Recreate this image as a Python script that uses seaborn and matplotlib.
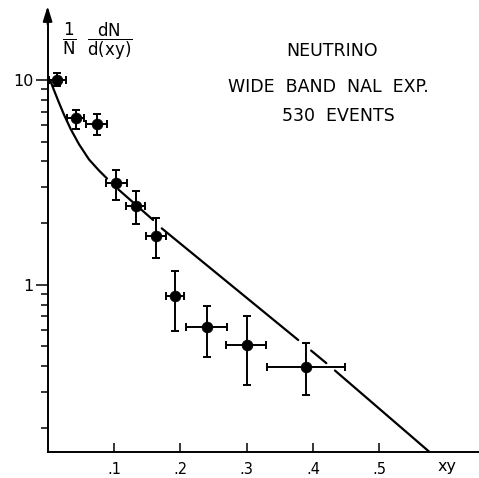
import numpy as np
import pandas as pd
import matplotlib
matplotlib.use("Agg")
import matplotlib.pyplot as plt
import seaborn as sns
from matplotlib.ticker import FixedLocator, NullFormatter

# ---- data ----
xy = [0.0146, 0.043, 0.074, 0.1035, 0.1327, 0.163, 0.192, 0.240, 0.300, 0.390]
rate = [10.0, 6.48, 6.06, 3.15, 2.43, 1.73, 0.884, 0.620, 0.508, 0.398]
rate_hi = [10.8, 7.12, 6.78, 3.63, 2.87, 2.12, 1.166, 0.787, 0.706, 0.518]
rate_lo = [9.31, 5.73, 5.37, 2.59, 1.98, 1.35, 0.594, 0.442, 0.324, 0.290]
xy_lo = [0.002, 0.029, 0.058, 0.088, 0.118, 0.148, 0.178, 0.208, 0.269, 0.330]
xy_hi = [0.027, 0.055, 0.090, 0.120, 0.147, 0.179, 0.206, 0.270, 0.329, 0.448]

# theory curve (drawn in pieces, with gaps where it passes the error bars)
curve_x = [0.0036, 0.0096, 0.0172, 0.0247, 0.0348, 0.0473, 0.0623, 0.0774, 0.0895,
           0.1065, 0.159,
           0.172, 0.3776,
           0.397, 0.420,
           0.433, 0.576]
curve_y = [10.0, 8.91, 7.73, 6.76, 5.75, 4.85, 4.09, 3.61, 3.30,
           2.92, 2.07,
           1.884, 0.537,
           0.477, 0.414,
           0.381, 0.152]
curve_piece = [0, 0, 0, 0, 0, 0, 0, 0, 0,
               1, 1,
               2, 2,
               3, 3,
               4, 4]

x_ticks = [0.1, 0.2, 0.3, 0.4, 0.5]
x_tick_labels = [".1", ".2", ".3", ".4", ".5"]
y_ticks = [1, 10]
y_tick_labels = ["1", "10"]
title_lines = ["NEUTRINO", "WIDE  BAND  NAL  EXP.", "530  EVENTS"]

# ---- figure ----
sns.set_style("ticks")
plt.rcParams["font.family"] = ["DejaVu Sans"]
plt.rcParams["mathtext.fontset"] = "custom"
plt.rcParams["mathtext.rm"] = "DejaVu Sans"
for k in ("text.color", "axes.labelcolor", "xtick.color", "ytick.color", "axes.edgecolor"):
    plt.rcParams[k] = "black"

fig = plt.figure(figsize=(4.79, 4.78), dpi=100)
ax = fig.add_axes([47.6 / 479, (478 - 452.3) / 478, (479 - 47.6) / 479, (452.3 - 20) / 478])

pts = pd.DataFrame({"xy": xy, "rate": rate})
curve = pd.DataFrame({"xy": curve_x, "rate": curve_y, "piece": curve_piece})

sns.lineplot(data=curve, x="xy", y="rate", units="piece", estimator=None,
             color="black", lw=1.6, ax=ax, legend=False, sort=False)

yerr = np.array([np.array(rate) - np.array(rate_lo), np.array(rate_hi) - np.array(rate)])
xerr = np.array([np.array(xy) - np.array(xy_lo), np.array(xy_hi) - np.array(xy)])
ax.errorbar(xy, rate, yerr=yerr, xerr=xerr, fmt="none", ecolor="black",
            elinewidth=1.4, capsize=3.2, capthick=1.4)
sns.scatterplot(data=pts, x="xy", y="rate", color="black", s=60,
                edgecolor="black", linewidth=0.5, ax=ax, zorder=5)

ax.set_yscale("log")
ax.set_xlim(0, 0.65)
ax.set_ylim(0.152, 19.6)

ax.xaxis.set_major_locator(FixedLocator(x_ticks))
ax.set_xticklabels(x_tick_labels)
ax.yaxis.set_major_locator(FixedLocator(y_ticks))
ax.set_yticklabels(y_tick_labels)
minor = [0.2, 0.3, 0.4, 0.5, 0.6, 0.7, 0.8, 0.9, 2, 3, 4, 5, 6, 7, 8, 9]
ax.yaxis.set_minor_locator(FixedLocator(minor))
ax.yaxis.set_minor_formatter(NullFormatter())

ax.tick_params(axis="x", direction="in", length=6.5, width=1.1, pad=7,
               labelsize=10.5, bottom=True, top=False, colors="black")
ax.tick_params(axis="y", which="major", direction="out", length=8.5, width=1.1,
               pad=1.5, labelsize=11.5, colors="black")
ax.tick_params(axis="y", which="minor", direction="out", length=5, width=1.1,
               colors="black")

sns.despine(ax=ax, top=True, right=True)
for s in ("left", "bottom"):
    ax.spines[s].set_linewidth(1.4)
    ax.spines[s].set_color("black")
ax.set_xlabel("")
ax.set_ylabel("")

# arrow at top of y axis
ax.annotate("", xy=(0, 1.032), xytext=(0, 0.99), xycoords="axes fraction",
            textcoords="axes fraction", annotation_clip=False,
            arrowprops=dict(arrowstyle="-|>,head_length=0.9,head_width=0.28",
                            color="black", lw=1.4, shrinkA=0, shrinkB=0))

# y label
fig.text(97 / 479, 1 - 41 / 478, r"$\mathregular{\dfrac{1}{N}\ \ \dfrac{dN}{d(xy)}}$",
         ha="center", va="center", fontsize=12, color="black")
# x label
fig.text(447 / 479, 1 - 467 / 478, "xy", ha="center", va="center", fontsize=11.5,
         color="black")

# annotation text
ys = [51.3, 87.5, 116]
xs = [331.7, 328, 338]
for t, xx, yy in zip(title_lines, xs, ys):
    fig.text(xx / 479, 1 - yy / 478, t, ha="center", va="center", fontsize=12.5,
             color="black")

fig.savefig("out.png", dpi=100)
